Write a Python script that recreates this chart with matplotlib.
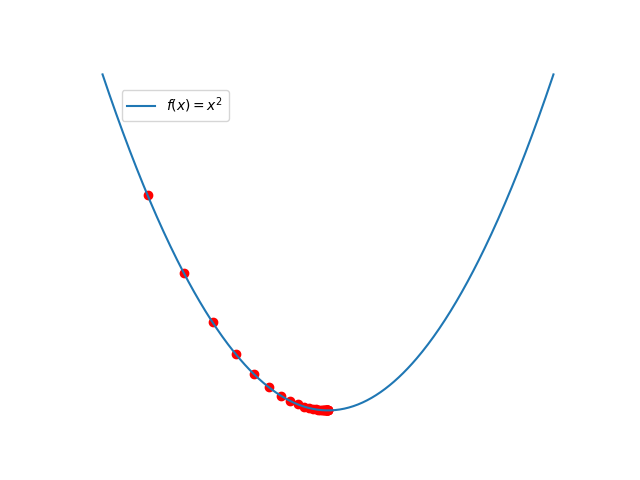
import numpy as np
import matplotlib
matplotlib.use("Agg")
import matplotlib.pyplot as plt

# Gradient descent iterates on f(x)=x^2
steps_x = [-8.0, -6.4, -5.12, -4.096, -3.2768, -2.62144, -2.097152, -1.6777216,
           -1.34217728, -1.073741824, -0.8589934592, -0.6871947674, -0.5497558139,
           -0.4398046511, -0.3518437209, -0.2814749767, -0.2251799814, -0.1801439851,
           -0.1441151881, -0.1152921505, -0.0922337204, -0.0737869763, -0.059029581,
           -0.0472236648, -0.0377789319, -0.0302231455, -0.0241785164, -0.0193428131,
           -0.0154742505, -0.0123794004]
steps_y = [v * v for v in steps_x]

x_min, x_max = -10, 10
x = np.linspace(x_min, x_max, 400)
y = x ** 2

fig, ax = plt.subplots(figsize=(6.4, 4.8), dpi=100)
ax.scatter(steps_x, steps_y, color="red")
ax.plot(x, y, label=r"$f(x) = x^2$")
ax.legend(loc="upper left", bbox_to_anchor=(0.07, 0.931))
ax.axis("off")
fig.savefig("out.png")
